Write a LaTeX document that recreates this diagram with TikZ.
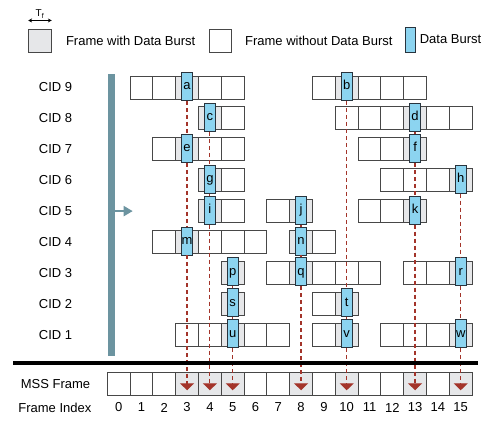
\documentclass[tikz,border=0pt]{standalone}
\usepackage{fontspec}
\setmainfont{Liberation Sans}
\usetikzlibrary{positioning, arrows.meta}

\definecolor{framegray}{RGB}{230,231,233}
\definecolor{burstblue}{RGB}{140,212,240}
\definecolor{burstline}{RGB}{40,52,62}
\definecolor{dashred}{RGB}{163,52,42}
\definecolor{barblue}{RGB}{108,148,160}

\begin{document}
\begin{tikzpicture}[
    x=22.8pt, y=30.9pt, % one frame wide, one CID row high
    font=\fontsize{13}{15}\selectfont,
    frm/.style={draw=black!72, line width=0.9pt, minimum width=22.8pt, minimum height=23pt, inner sep=0pt},
    frmb/.style={frm, fill=framegray},
    burst/.style={draw=burstline, line width=0.9pt, fill=burstblue, minimum width=10.7pt,
        minimum height=28pt, inner sep=0pt, text height=6.8pt, text depth=0pt, yshift=1pt},
    flow/.style={dashred, line width=1.2pt, dash pattern=on 4pt off 3pt,
        -{Triangle[width=14pt,length=7pt]}, shorten >=-6.3pt}
]
\useasboundingbox (-5.206,11.832) rectangle (16.417,-1.825);

% Legend
\node[frmb] (lgWith) at (-3.452,10.505) {};
\node[right=14pt of lgWith, inner sep=0pt] (lgWithTxt) {Frame with Data Burst};
\node[frm, right=13pt of lgWithTxt] (lgWithout) {};
\node[right=12.7pt of lgWithout, inner sep=0pt] (lgWithoutTxt) {Frame without Data Burst};
\node[burst, minimum height=25pt, minimum width=10pt, right=12.6pt of lgWithoutTxt] (lgBurst) {};
\node[right=3.4pt of lgBurst, inner sep=0pt, yshift=1pt] (lgBurstTxt) {Data Burst};
\draw[{Stealth[length=4pt,width=4pt]}-{Stealth[length=4pt,width=4pt]}, line width=0.8pt]
    ([yshift=8.6pt]lgWith.north west) -- node[above, inner sep=1.5pt, font=\fontsize{10}{12}\selectfont] (tf) {T\textsubscript{f}}
    ([yshift=8.6pt]lgWith.north east);

% Time axis bar
\node[fill=barblue, minimum width=7pt, minimum height=282pt, inner sep=0pt] (bar) at (-0.316,4.874) {};
\coordinate (barTip) at (0.614,5);
\draw[barblue, line width=2pt, -{Triangle[width=10pt,length=9pt]}] (bar.east |- barTip) -- (barTip);

% CID labels
\foreach \r in {1,...,9}
    \node (cid\r) at (-2.772,\r) {CID \r};

% Frames of every CID: row/first/last
\foreach \r/\s/\e in {9/1/5, 9/9/13, 8/4/5, 8/10/15, 7/2/5, 7/11/13, 6/4/5, 6/12/15,
        5/4/5, 5/7/8, 5/11/13, 4/2/6, 4/8/9, 3/5/5, 3/7/11, 3/13/15,
        2/5/5, 2/9/10, 1/3/7, 1/9/10, 1/12/15}
    \foreach \i in {\s,...,\e}
        \node[frm] (c\r-\i) at (\i,\r) {};

% MSS frame and frame index
\node (mssLabel) at (-2.77,-0.595) {MSS Frame};
\node (idxLabel) at (-2.8,-1.356) {Frame Index};
\foreach \i in {0,...,15} {
    \node[frm] (mss\i) at (\i,-0.595) {};
    \node (idx\i) at (\i,-1.356) {\i};
}
\foreach \i in {3,4,5,8,10,13,15}
    \node[frmb] (mss\i) at (\i,-0.595) {};

% Data bursts: row/frame/label
\foreach \r/\i/\l in {9/3/a, 9/10/b, 8/4/c, 8/13/d, 7/3/e, 7/13/f, 6/4/g, 6/15/h,
        5/4/i, 5/8/j, 5/13/k, 4/3/m, 4/8/n, 3/5/p, 3/8/q, 3/15/r,
        2/5/s, 2/10/t, 1/5/u, 1/10/v, 1/15/w} {
    \node[frmb] (c\r-\i) at (\i,\r) {};
    \node[burst] (\l) at (\i,\r) {\l};
}

% Bursts mapped onto the MSS frame
\draw[flow] (a) -- (e) (e) -- (m) (m) -- (mss3.center);
\draw[flow] (c) -- (g) (g) -- (i) (i) -- (mss4.center);
\draw[flow] (p) -- (s) (s) -- (u) (u) -- (mss5.center);
\draw[flow] (j) -- (n) (n) -- (q) (q) -- (mss8.center);
\draw[flow] (b) -- (t) (t) -- (v) (v) -- (mss10.center);
\draw[flow] (d) -- (f) (f) -- (k) (k) -- (mss13.center);
\draw[flow] (h) -- (r) (r) -- (w) (w) -- (mss15.center);

% Separator
\draw[line width=3.5pt] (-4.623,0.084) -- (15.746,0.084);

\end{tikzpicture}
\end{document}
